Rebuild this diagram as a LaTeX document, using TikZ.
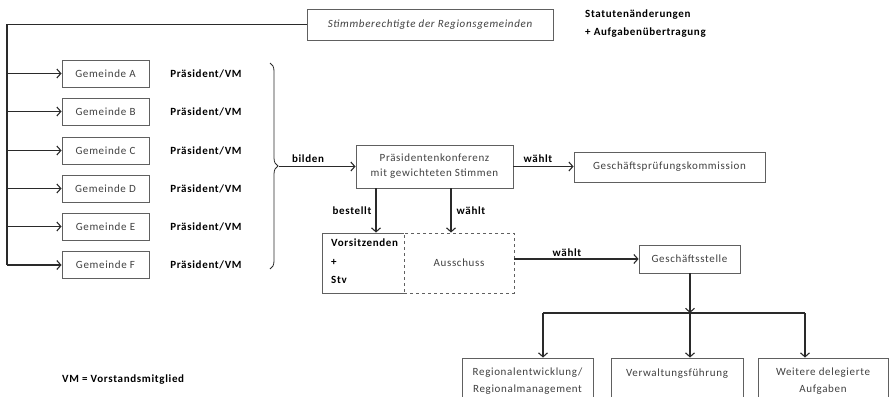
\documentclass[tikz,border=0pt]{standalone}
\usepackage{fontspec}
\setmainfont{Carlito}[LetterSpace=6]
\usetikzlibrary{arrows.meta,decorations.pathreplacing}
\definecolor{boxc}{HTML}{606060}
\definecolor{linec}{HTML}{2A2A2A}
\definecolor{txtc}{HTML}{404040}
\tikzset{
  box/.style={draw=boxc, line width=0.9pt, fill=white, text=txtc, inner sep=0pt,
    align=center, font=\fontsize{11}{18}\selectfont},
  lbl/.style={inner sep=0pt, text=black, font=\fontsize{11}{18}\bfseries\selectfont},
  arr/.style={draw=linec, line width=1.1pt, -{Straight Barb[length=4pt,width=9pt,line width=1.1pt]}},
  conn/.style={draw=linec, line width=1.1pt},
  bracedeco/.style={draw=linec, line width=0.8pt, decorate, decoration={brace, amplitude=8pt}}
}
\begin{document}
\begin{tikzpicture}[x=1pt,y=-1pt]
\useasboundingbox (0,0) rectangle (890,396);
\clip (0,0) rectangle (890,396);
% top
\node[box, minimum width=246pt, minimum height=31pt, font=\fontsize{11}{12}\itshape\selectfont] (top) at (430,24.5) {Stimmberechtigte der Regionsgemeinden};
\node[lbl, anchor=west] (stat1) at (585,15) {Statutenänderungen};
\node[lbl, anchor=west] (stat2) at (585,33) {+ Aufgabenübertragung};
% Gemeinden
\foreach \n/\y in {A/73.5,B/111.5,C/150.5,D/188.5,E/226.5,F/265}{
  \node[box, minimum width=87pt, minimum height=27pt] (g\n) at (105.5,\y) {Gemeinde \n};
  \node[lbl] (p\n) at (206,\y) {Präsident/VM};
}
\coordinate (lft) at (7,265);
\draw[conn] (top.west) -| (lft);
\foreach \n in {A,B,C,D,E,F}{
  \draw[arr] (lft |- g\n.west) -- (g\n.west);
}
% brace
\coordinate (brtop) at (270,63);
\coordinate (brbot) at (270,269);
\coordinate (brtip) at (279,166.5);
\draw[bracedeco] (brtop) -- (brbot);
% Praesidentenkonferenz
\node[box, minimum width=157pt, minimum height=43pt] (pk) at (434.5,166.5) {Präsidentenkonferenz\\[-3pt]mit gewichteten Stimmen};
\node[box, minimum width=191pt, minimum height=30pt] (gpk) at (669.5,167) {Geschäftsprüfungskommission};
\draw[arr] (brtip) -- (pk.west);
\node[lbl] (bilden) at (308,159) {bilden};
\draw[arr] (pk.east) -- (pk.east -| gpk.west);
\node[lbl] (w1) at (538,159) {wählt};
% Vorsitzende / Ausschuss
\node[box, minimum width=82pt, minimum height=60pt] (vors) at (363,263) {};
\node[lbl, anchor=north west, align=left, font=\fontsize{11}{18.5}\bfseries\selectfont] (vorstxt) at (331,239) {Vorsitzenden\\+\\Stv};
\node[box, dashed, minimum width=110pt, minimum height=60pt] (aus) at (459,263) {Ausschuss};
\coordinate (xb) at (376,0);
\coordinate (xw) at (451,0);
\draw[arr] (pk.south -| xb) -- (vors.north -| xb);
\draw[arr] (pk.south -| xw) -- (aus.north -| xw);
\node[lbl] (best) at (352,211) {bestellt};
\node[lbl] (w2) at (471,211) {wählt};
% Geschaeftsstelle
\node[box, minimum width=101pt, minimum height=28pt] (gs) at (689.5,259) {Geschäftsstelle};
\draw[arr] (gs.west -| aus.east) -- (gs.west);
\node[lbl] (w3) at (567,253) {wählt};
% bottom
\node[box, minimum width=131pt, minimum height=46pt] (reg) at (527.5,381) {Regionalentwicklung/\\[-1pt]Regionalmanagement};
\node[box, minimum width=132pt, minimum height=46pt] (ver) at (677,381) {Verwaltungsführung\\[-1pt]\mbox{}};
\node[box, minimum width=130pt, minimum height=46pt] (wei) at (823,381) {Weitere delegierte\\[-1pt]Aufgaben};
\coordinate (sp) at (690,313);
\coordinate (spl) at (543,313);
\coordinate (spr) at (805,313);
\draw[arr] (gs.south -| sp) -- (sp);
\draw[conn] (spl) -- (spr);
\draw[arr] (spl) -- (reg.north -| spl);
\draw[arr] (sp) -- (ver.north -| sp);
\draw[arr] (spr) -- (wei.north -| spr);
\node[lbl, anchor=west] (vm) at (62,380) {VM = Vorstandsmitglied};
\end{tikzpicture}
\end{document}
